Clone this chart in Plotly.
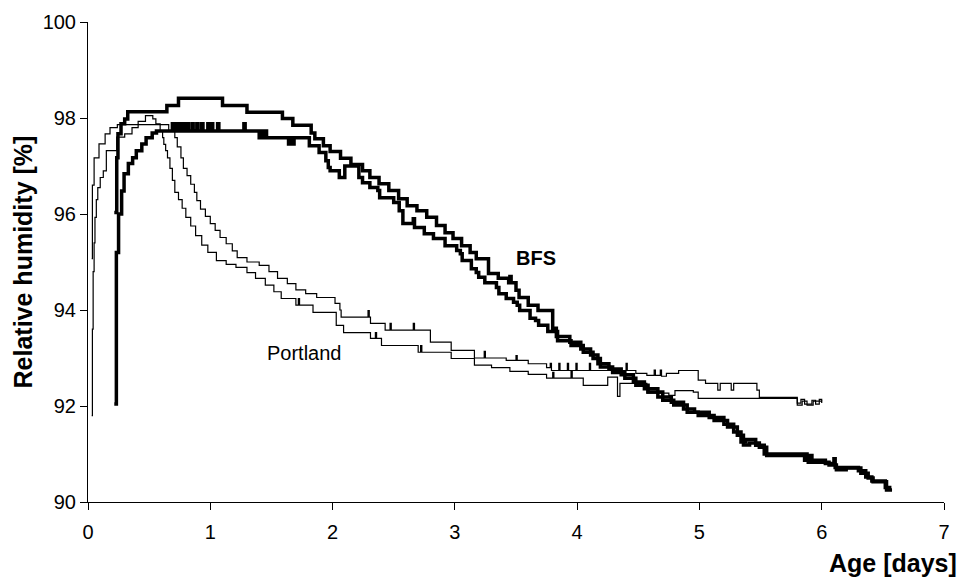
import plotly.graph_objects as go

# ---- data ----
# BFS, curve 1 (higher peak)
bfs1_x = [0.215, 0.235, 0.245, 0.27, 0.30, 0.325, 0.645, 0.74, 1.10, 1.30, 1.59, 1.675, 1.825, 1.855,
          1.925, 1.98, 2.065, 2.15, 2.245, 2.305, 2.38, 2.46, 2.54, 2.61, 2.69, 2.77, 2.85, 2.92, 2.985,
          3.055, 3.125, 3.175, 3.275, 3.355, 3.44, 3.45, 3.46, 3.50, 3.525, 3.60, 3.68, 3.80, 3.83, 3.94,
          4.03, 4.11, 4.17, 4.26, 4.36, 4.46, 4.55, 4.66, 4.77, 4.87, 4.96, 5.08, 5.20, 5.28, 5.34, 5.38,
          5.46, 5.53, 5.86, 5.87, 5.88, 6.03, 6.10, 6.11, 6.18, 6.30, 6.36, 6.41, 6.52, 6.57]
bfs1_y = [96.03, 97.17, 97.67, 97.88, 97.98, 98.13, 98.26, 98.41, 98.26, 98.12, 97.99, 97.85, 97.69, 97.57,
          97.42, 97.30, 97.16, 97.03, 96.90, 96.76, 96.63, 96.49, 96.32, 96.17, 96.07, 95.93, 95.76, 95.61, 95.49,
          95.34, 95.20, 95.07, 94.76, 94.66, 94.57, 94.70, 94.57, 94.41, 94.26, 94.10, 93.99, 93.62, 93.45, 93.33,
          93.19, 93.06, 92.88, 92.77, 92.65, 92.50, 92.36, 92.19, 92.08, 91.94, 91.87, 91.76, 91.62, 91.46, 91.25, 91.30,
          91.18, 91.00, 90.87, 91.00, 90.87, 90.80, 90.90, 90.72, 90.72, 90.65, 90.52, 90.44, 90.30, 90.30]

# BFS, curve 2 (lower plateau)
bfs2_x = [0.215, 0.232, 0.25, 0.275, 0.295, 0.33, 0.365, 0.395, 0.44, 0.475, 0.525, 0.56,
          0.69, 0.70, 0.72, 0.735, 0.76, 0.77, 0.79, 0.80, 0.81, 0.82, 0.85, 0.86, 0.89, 0.90,
          0.93, 0.94, 0.98, 0.99, 1.01, 1.02, 1.06, 1.07, 1.275, 1.285, 1.40, 1.42, 1.43, 1.45, 1.46,
          1.64, 1.655, 1.67, 1.685, 1.81, 1.89, 1.945, 1.965, 1.98, 2.055, 2.10, 2.215, 2.245, 2.305,
          2.37, 2.385, 2.50, 2.545, 2.575, 2.66, 2.67, 2.68, 2.75, 2.825, 2.92, 3.015, 3.045, 3.06, 3.135,
          3.175, 3.195, 3.245, 3.34, 3.36, 3.42, 3.48, 3.51, 3.53, 3.615, 3.66, 3.685, 3.76, 3.84, 3.95,
          4.05, 4.13, 4.19, 4.29, 4.39, 4.48, 4.58, 4.70, 4.79, 4.90, 4.99, 5.12, 5.23, 5.31, 5.36, 5.41,
          5.49, 5.55, 5.89, 5.90, 5.92, 6.06, 6.12, 6.20, 6.32, 6.38, 6.42, 6.53, 6.575]
bfs2_y = [92.04, 95.20, 96.00, 96.48, 96.84, 97.05, 97.17, 97.32, 97.46, 97.59, 97.69, 97.73,
          97.88, 97.73, 97.88, 97.73, 97.88, 97.73, 97.88, 97.73, 97.88, 97.73, 97.88, 97.73, 97.88, 97.73,
          97.88, 97.73, 97.88, 97.73, 97.88, 97.73, 97.88, 97.73, 97.88, 97.73, 97.59, 97.73, 97.59, 97.73, 97.59,
          97.46, 97.59, 97.46, 97.59, 97.42, 97.28, 97.11, 96.97, 96.90, 96.76, 97.00, 96.76, 96.65, 96.55,
          96.49, 96.34, 96.24, 96.07, 95.80, 95.90, 95.72, 95.72, 95.59, 95.49, 95.34, 95.24, 95.17, 95.03, 94.86,
          94.78, 94.68, 94.57, 94.47, 94.34, 94.24, 94.16, 94.10, 93.99, 93.83, 93.78, 93.68, 93.55, 93.36, 93.26,
          93.12, 92.99, 92.81, 92.70, 92.58, 92.43, 92.29, 92.12, 92.02, 91.87, 91.80, 91.70, 91.56, 91.39, 91.19, 91.23,
          91.14, 90.97, 90.83, 90.97, 90.83, 90.77, 90.67, 90.71, 90.60, 90.50, 90.42, 90.25, 90.25]

# Portland, curve 1 (plateau, later descent)
pc1_x = [0.030, 0.036, 0.050, 0.09, 0.14, 0.18, 0.24, 0.66, 0.71, 0.73, 0.76, 0.78, 0.81, 0.84, 0.87,
         0.89, 0.92, 0.96, 1.00, 1.04, 1.08, 1.13, 1.18, 1.22, 1.30, 1.40, 1.48, 1.55, 1.63, 1.70, 1.78,
         1.87, 2.02, 2.06, 2.07, 2.29, 2.30, 2.31, 2.43, 2.47, 2.48, 2.66, 2.67, 2.80, 2.97, 3.16, 3.24,
         3.25, 3.42, 3.50, 3.51, 3.60, 3.75, 3.78, 3.79, 3.85, 3.86, 3.92, 3.93, 3.99, 4.00, 4.10, 4.11,
         4.40, 4.41, 4.48, 4.57, 4.63, 4.64, 4.68, 4.69, 4.73, 4.83, 4.99, 5.05, 5.15, 5.17, 5.26, 5.28,
         5.47, 5.49, 5.80, 5.83, 5.86, 5.92, 5.95, 5.98, 6.00]
pc1_y = [95.07, 96.60, 97.17, 97.46, 97.67, 97.80, 97.86, 97.73, 97.59, 97.40, 97.17, 96.95, 96.80, 96.62, 96.45,
         96.28, 96.10, 95.95, 95.80, 95.66, 95.51, 95.38, 95.23, 95.09, 95.00, 94.93, 94.80, 94.66, 94.55, 94.42, 94.34,
         94.26, 94.14, 94.00, 93.85, 93.99, 93.85, 93.72, 93.58, 93.72, 93.58, 93.72, 93.58, 93.33, 93.16, 93.00, 93.14,
         93.00, 92.95, 93.05, 92.95, 92.88, 92.80, 92.89, 92.74, 92.89, 92.74, 92.89, 92.74, 92.89, 92.74, 92.89, 92.74,
         92.89, 92.74, 92.68, 92.64, 92.75, 92.64, 92.75, 92.62, 92.68, 92.74, 92.54, 92.47, 92.33, 92.47, 92.33, 92.47,
         92.33, 92.18, 92.06, 92.14, 92.04, 92.12, 92.04, 92.14, 92.10]

# Portland, curve 2 (higher early peak, earlier descent)
pc2_x = [0.030, 0.036, 0.042, 0.050, 0.057, 0.068, 0.080, 0.100, 0.125, 0.150, 0.235, 0.30, 0.36, 0.41,
         0.47, 0.53, 0.555, 0.59, 0.61, 0.62, 0.635, 0.65, 0.67, 0.69, 0.71, 0.74, 0.77, 0.80, 0.84, 0.88,
         0.93, 0.98, 1.05, 1.13, 1.21, 1.30, 1.37, 1.45, 1.52, 1.58, 1.70, 1.72, 1.73, 1.84, 2.03, 2.09,
         2.31, 2.35, 2.36, 2.40, 2.70, 2.72, 2.73, 2.97, 3.16, 3.30, 3.45, 3.60, 3.75, 3.80, 3.81, 3.95,
         3.96, 4.05, 4.25, 4.33, 4.35, 4.57, 4.75, 4.80, 4.95, 4.99, 5.80, 5.84, 5.88, 5.93, 6.00]
pc2_y = [91.80, 93.60, 94.80, 95.40, 95.93, 96.30, 96.55, 96.76, 96.90, 97.32, 97.60, 97.67, 97.80, 97.93,
         98.05, 97.98, 97.88, 97.73, 97.59, 97.45, 97.32, 97.17, 96.95, 96.70, 96.45, 96.30, 96.12, 95.93, 95.75, 95.55,
         95.35, 95.20, 95.03, 94.95, 94.89, 94.78, 94.66, 94.52, 94.38, 94.24, 94.10, 94.24, 94.10, 93.95, 93.68, 93.53,
         93.41, 93.53, 93.41, 93.26, 93.12, 93.26, 93.12, 92.99, 92.85, 92.80, 92.72, 92.66, 92.58, 92.70, 92.58, 92.72,
         92.58, 92.43, 92.60, 92.20, 92.47, 92.27, 92.22, 92.32, 92.29, 92.16, 92.02, 92.10, 92.02, 92.10, 92.06]

x_ticks = [0, 1, 2, 3, 4, 5, 6, 7]
y_ticks = [90, 92, 94, 96, 98, 100]

FONT = "Liberation Sans, Arial, sans-serif"

fig = go.Figure()
for xs, ys in [(pc1_x, pc1_y), (pc2_x, pc2_y)]:
    fig.add_trace(go.Scatter(x=xs, y=ys, mode="lines", line=dict(color="black", width=1.2, shape="hv"),
                             showlegend=False, hoverinfo="skip"))
for xs, ys in [(bfs1_x, bfs1_y), (bfs2_x, bfs2_y)]:
    fig.add_trace(go.Scatter(x=xs, y=ys, mode="lines", line=dict(color="black", width=3.5, shape="hv"),
                             showlegend=False, hoverinfo="skip"))

fig.update_layout(
    width=961, height=577,
    margin=dict(l=88, r=11, t=21, b=75),
    paper_bgcolor="white", plot_bgcolor="white",
    font=dict(family=FONT, color="black", size=20),
    showlegend=False,
)
fig.update_xaxes(range=[0, 7], tickvals=x_ticks, showgrid=False, zeroline=False,
                 showline=True, linecolor="black", linewidth=1, ticks="outside", ticklen=7,
                 tickcolor="black", tickfont=dict(size=20, family=FONT), ticklabelstandoff=5)
fig.update_yaxes(range=[90, 100], tickvals=y_ticks, showgrid=False, zeroline=False,
                 showline=True, linecolor="black", linewidth=1, ticks="outside", ticklen=7,
                 tickcolor="black", tickfont=dict(size=20, family=FONT))

fig.add_annotation(text="<b>Age [days]</b>", xref="paper", yref="paper", x=1.017, y=-0.127,
                   xanchor="right", yanchor="middle", showarrow=False, font=dict(size=25, family=FONT))
fig.add_annotation(text="<b>Relative humidity [%]</b>", xref="paper", yref="paper", x=-0.0754, y=0.5,
                   xanchor="center", yanchor="middle", textangle=-90, showarrow=False,
                   font=dict(size=25, family=FONT))
fig.add_annotation(text="<b>BFS</b>", x=3.66, y=95.09, xref="x", yref="y", showarrow=False,
                   font=dict(size=20, family=FONT))
fig.add_annotation(text="Portland", x=1.77, y=93.10, xref="x", yref="y", showarrow=False,
                   font=dict(size=20, family=FONT))

fig.write_html("out.html")
